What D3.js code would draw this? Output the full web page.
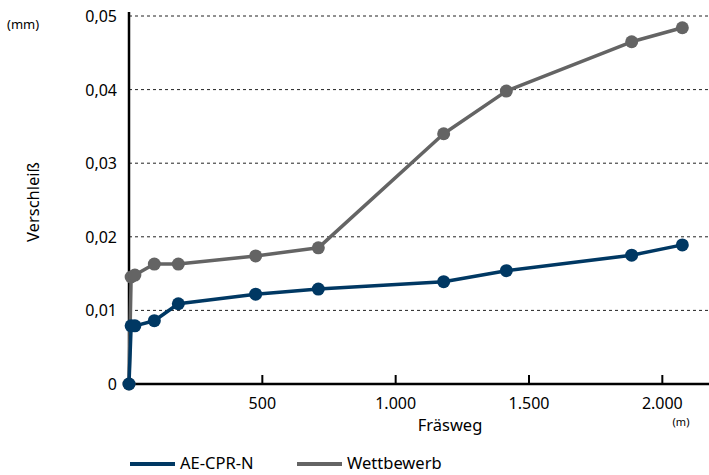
<!DOCTYPE html>
<html><head><meta charset="utf-8">
<script src="https://cdn.jsdelivr.net/npm/d3@7"></script>
<style>body{margin:0;background:#fff;} text{font-family:"Noto Sans",sans-serif;fill:#000;}</style>
</head><body>
<svg id="c" width="709" height="475"></svg>
<script>
const distances = [0, 8, 22, 95, 185, 475, 710, 1180, 1415, 1885, 2075];
const aeCprN = [0, 0.0079, 0.0079, 0.0086, 0.0109, 0.0122, 0.0129, 0.0139, 0.0154, 0.0175, 0.0189];
const wettbewerb = [0, 0.01454, 0.0148, 0.0163, 0.0163, 0.0174, 0.0185, 0.0340, 0.0398, 0.0465, 0.0484];
const seriesNames = ["AE-CPR-N", "Wettbewerb"];
const xTicks = [500, 1000, 1500, 2000];
const xTickLabels = ["500", "1.000", "1.500", "2.000"];
const yTicks = [0, 0.01, 0.02, 0.03, 0.04, 0.05];
const yTickLabels = ["0", "0,01", "0,02", "0,03", "0,04", "0,05"];

const colors = {"AE-CPR-N": "#003863", "Wettbewerb": "#646464"};
const svg = d3.select("#c");
const x = d3.scaleLinear().domain([0, 2175]).range([129, 709]);
const y = d3.scaleLinear().domain([0, 0.05]).range([384, 16]);

// gridlines
svg.append("g").selectAll("line").data(yTicks.filter(d => d > 0)).join("line")
  .attr("x1", x(0)).attr("x2", 709).attr("y1", d => y(d)).attr("y2", d => y(d))
  .attr("stroke", "#222").attr("stroke-width", 1).attr("stroke-dasharray", "3,3");

// y tick labels
svg.append("g").selectAll("text").data(yTicks).join("text")
  .attr("x", 117).attr("y", d => y(d) + 6).attr("text-anchor", "end")
  .attr("font-size", 16).text((d, i) => yTickLabels[i]);

// x ticks
svg.append("g").selectAll("line").data(xTicks).join("line")
  .attr("x1", d => x(d)).attr("x2", d => x(d)).attr("y1", y(0)).attr("y2", y(0) - 9)
  .attr("stroke", "#000").attr("stroke-width", 2);
svg.append("g").selectAll("text").data(xTicks).join("text")
  .attr("x", d => x(d)).attr("y", 409).attr("text-anchor", "middle")
  .attr("font-size", 16).text((d, i) => xTickLabels[i]);

// axes lines
svg.append("line").attr("x1", x(0)).attr("x2", x(0)).attr("y1", 12).attr("y2", y(0))
  .attr("stroke", "#000").attr("stroke-width", 2.5);
svg.append("line").attr("x1", x(0)).attr("x2", 709).attr("y1", y(0)).attr("y2", y(0))
  .attr("stroke", "#000").attr("stroke-width", 2.5);

// labels
svg.append("text").attr("x", 7).attr("y", 29).attr("font-size", 13).text("(mm)");
svg.append("text").attr("transform", "translate(39,202) rotate(-90)").attr("text-anchor", "middle")
  .attr("font-size", 16.5).text("Verschleiß");
svg.append("text").attr("x", 681).attr("y", 426).attr("text-anchor", "middle").attr("font-size", 11).text("(m)");
svg.append("text").attr("x", 450).attr("y", 431).attr("text-anchor", "middle").attr("font-size", 16.5).text("Fräsweg");

// series
const data = [
  {name: "Wettbewerb", values: wettbewerb},
  {name: "AE-CPR-N", values: aeCprN}
];
const line = d3.line().x(d => x(d[0])).y(d => y(d[1]));
data.forEach(s => {
  const pts = distances.map((d, i) => [d, s.values[i]]);
  svg.append("path").attr("d", line(pts)).attr("fill", "none")
    .attr("stroke", colors[s.name]).attr("stroke-width", 3.5).attr("stroke-linejoin", "round");
  svg.append("g").selectAll("circle").data(pts).join("circle")
    .attr("cx", d => x(d[0])).attr("cy", d => y(d[1])).attr("r", 6.5)
    .attr("fill", colors[s.name]);
});

// legend
const leg = svg.append("g");
[{name: "AE-CPR-N", x0: 130}, {name: "Wettbewerb", x0: 297}].forEach(l => {
  leg.append("line").attr("x1", l.x0).attr("x2", l.x0 + 45).attr("y1", 464).attr("y2", 464)
    .attr("stroke", colors[l.name]).attr("stroke-width", 4);
  leg.append("text").attr("x", l.x0 + 50).attr("y", 469).attr("font-size", 16.5).text(l.name);
});
</script>
</body></html>
